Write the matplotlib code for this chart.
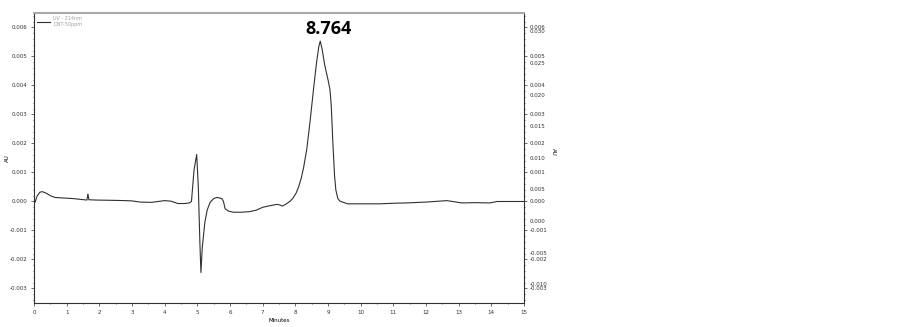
import matplotlib.pyplot as plt
import matplotlib.ticker as ticker

# chromatogram trace (minutes, AU)
minutes = [0.00, 0.03, 0.10, 0.18, 0.25, 0.35, 0.50, 0.64, 0.90, 1.20, 1.45,
           1.62, 1.65, 1.68, 1.90, 2.40, 2.80, 3.00, 3.25, 3.60, 4.00, 4.20,
           4.40, 4.60, 4.75, 4.82, 4.90, 4.98, 5.03, 5.08, 5.11, 5.15, 5.23,
           5.30, 5.39, 5.50, 5.60, 5.75, 5.80, 5.85, 5.95, 6.10, 6.35, 6.60,
           6.80, 7.00, 7.20, 7.44, 7.53, 7.60, 7.70, 7.84, 7.93, 8.02, 8.10,
           8.18, 8.25, 8.35, 8.45, 8.55, 8.65, 8.72, 8.764, 8.82, 8.90, 9.00,
           9.06, 9.10, 9.15, 9.20, 9.24, 9.30, 9.37, 9.60, 10.00, 10.60, 11.00,
           11.40, 12.00, 12.64, 13.10, 13.50, 13.96, 14.17, 15.00]
au = [-0.00005, -0.00003, 0.00020, 0.00032, 0.00034, 0.00030, 0.00020,
      0.00014, 0.00012, 0.00010, 0.00007, 0.00005, 0.00026, 0.00006,
      0.00005, 0.00004, 0.00003, 0.00002, -0.00002, -0.00003, 0.00003,
      0.00001, -0.00007, -0.00007, -0.00005, 0.00000, 0.00110, 0.00162,
      0.00050, -0.00150, -0.00245, -0.00160, -0.00072, -0.00030, -0.00003,
      0.00010, 0.00014, 0.00010, 0.00000, -0.00025, -0.00033, -0.00037,
      -0.00037, -0.00035, -0.00030, -0.00020, -0.00015, -0.00010, -0.00012,
      -0.00016, -0.00010, 0.00001, 0.00012, 0.00028, 0.00050, 0.00080,
      0.00115, 0.00180, 0.00275, 0.00380, 0.00480, 0.00535, 0.00553,
      0.00525, 0.00470, 0.00420, 0.00386, 0.00330, 0.00200, 0.00090,
      0.00040, 0.00010, 0.00001, -0.00008, -0.00008, -0.00008, -0.00006,
      -0.00005, -0.00002, 0.00003, -0.00005, -0.00004, -0.00005, 0.00000,
      0.00000]

peak_time = 8.764
peak_au = 0.00553
left_ticks = [-0.003, -0.002, -0.001, 0.000, 0.001, 0.002, 0.003, 0.004, 0.005, 0.006]
right_ticks = [-0.010, -0.005, 0.000, 0.005, 0.010, 0.015, 0.020, 0.025, 0.030]

fig = plt.figure(figsize=(9, 3.27), dpi=100)
ax = fig.add_axes([0.0378, 0.0734, 0.5444, 0.8869])

ax.plot(minutes, au, color='#303030', linewidth=0.8, label='UV - 214nm\nDNT-50ppm')

ax.set_xlim(0, 15)
ax.set_ylim(-0.0035, 0.0065)
ax.set_xticks(range(16))
ax.xaxis.set_minor_locator(ticker.MultipleLocator(0.5))
ax.set_yticks(left_ticks)
ax.yaxis.set_major_formatter(ticker.FormatStrFormatter('%.3f'))
ax.yaxis.set_minor_locator(ticker.MultipleLocator(0.0002))
ax.tick_params(labelsize=4, length=2, width=0.5, pad=3, colors='#303030')
ax.tick_params(which='minor', length=1, width=0.4)
ax.set_xlabel('Minutes', fontsize=4, labelpad=2)
ax.set_ylabel('AU', fontsize=4)
ax.yaxis.set_label_coords(-0.05, 0.5)

for side in ['left', 'bottom', 'right']:
    ax.spines[side].set_color('#303030')
    ax.spines[side].set_linewidth(0.8)
ax.spines['top'].set_color('#a8a8a8')
ax.spines['top'].set_linewidth(1.5)

# right axis: same AU scale
ax2 = ax.twinx()
ax2.set_ylim(ax.get_ylim())
ax2.set_yticks(left_ticks)
ax2.yaxis.set_major_formatter(ticker.FormatStrFormatter('%.3f'))
ax2.yaxis.set_minor_locator(ticker.MultipleLocator(0.0002))
ax2.tick_params(labelsize=4, length=2, width=0.5, pad=2, colors='#303030')
ax2.tick_params(which='minor', length=1, width=0.4)
ax2.set_ylabel('AU', fontsize=4, rotation=270)
ax2.yaxis.set_label_coords(1.065, 0.52)

# second trace scale on the right
ax3 = ax.twinx()
ax3.set_ylim(-0.01297, 0.0329)
ax3.set_yticks(right_ticks)
ax3.yaxis.set_major_formatter(ticker.FormatStrFormatter('%.3f'))
ax3.tick_params(labelsize=4, length=0, pad=4, colors='#303030')
for a in (ax2, ax3):
    for s in a.spines.values():
        s.set_visible(False)

ax.annotate(f'{peak_time:.3f}', xy=(peak_time, peak_au), xytext=(6, 9),
            textcoords='offset points', ha='center', va='center',
            fontsize=13, fontweight='bold', family='Open Sans')

leg = ax.legend(loc='upper left', fontsize=3.5, frameon=False, handlelength=2.5,
                borderaxespad=0.3)
for t in leg.get_texts():
    t.set_color('#a0a0a0')

fig.savefig('out.png', dpi=100)
